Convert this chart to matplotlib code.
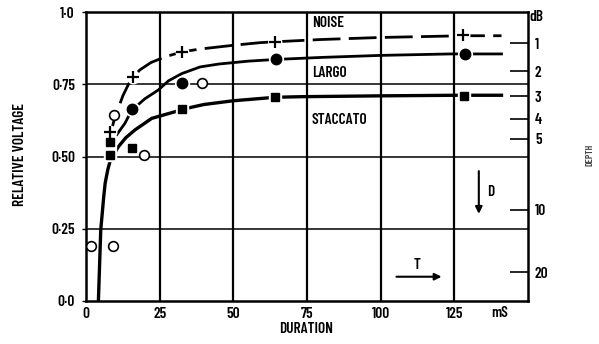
import matplotlib
matplotlib.use("Agg")
import matplotlib.pyplot as plt

# ---------------- data ----------------
noise_x = [8.2, 16.1, 32.5, 64.0, 128.0]
noise_y = [0.586, 0.776, 0.861, 0.896, 0.920]

largo_x = [15.5, 32.5, 64.5, 128.7]
largo_y = [0.663, 0.753, 0.836, 0.855]

stacc_x = [8.2, 8.2, 15.5, 32.5, 64.2, 128.2]
stacc_y = [0.551, 0.505, 0.528, 0.663, 0.705, 0.709]

open_x = [1.6, 9.1, 9.6, 19.8, 39.5]
open_y = [0.19, 0.19, 0.644, 0.505, 0.753]

# hand-drawn curves
noise_cx = [8.0, 9.5, 11.0, 12.5, 14.4, 16.1, 18.3, 22.0, 26.8, 32.5, 38.7, 50.0, 59.0, 64.0, 80.0, 100.0, 123.6, 128.0, 141.0]
noise_cy = [0.565, 0.625, 0.668, 0.710, 0.750, 0.776, 0.800, 0.825, 0.845, 0.862, 0.872, 0.885, 0.894, 0.897, 0.905, 0.912, 0.917, 0.918, 0.918]

largo_cx = [10.4, 13.2, 15.5, 20.0, 24.5, 28.0, 32.5, 38.7, 45.0, 55.0, 64.5, 80.0, 100.0, 123.6, 128.7, 141.0]
largo_cy = [0.575, 0.615, 0.660, 0.700, 0.730, 0.762, 0.787, 0.810, 0.820, 0.830, 0.836, 0.843, 0.850, 0.855, 0.855, 0.855]

stacc_cx = [4.2, 5.0, 6.0, 6.5, 7.4, 8.2, 10.9, 13.5, 16.6, 22.3, 30.2, 32.5, 40.0, 50.0, 64.2, 72.7, 100.0, 126.0, 141.0]
stacc_cy = [0.0, 0.246, 0.360, 0.408, 0.455, 0.485, 0.533, 0.565, 0.592, 0.632, 0.655, 0.663, 0.680, 0.693, 0.705, 0.707, 0.710, 0.712, 0.712]

x_ticks = [0, 25, 50, 75, 100, 125]
x_ticklabels = ["0", "25", "50", "75", "100", "125"]
y_ticks = [0.0, 0.25, 0.5, 0.75, 1.0]
y_ticklabels = ["0·0", "0·25", "0·50", "0·75", "1·0"]
db_ticks = [1, 2, 3, 4, 5, 10, 20]

FONT = ["Barlow Condensed", "DejaVu Sans"]
FW = 600
FS = 11

fig = plt.figure(figsize=(5.99, 3.44), dpi=100)
ax = fig.add_axes([0.1436, 0.125, 0.7379, 0.840])
ax.set_xlim(0, 150)
ax.set_ylim(0, 1.0)

for s in ax.spines.values():
    s.set_linewidth(1.8)

# grid
for v in x_ticks[1:]:
    ax.axvline(v, color="black", lw=1.6, zorder=1)
for v in y_ticks[1:4]:
    ax.axhline(v, color="black", lw=1.1, zorder=1)

# curves
ax.plot(noise_cx, noise_cy, color="black", lw=2.0, dashes=(10, 3), zorder=2, solid_capstyle="butt")
ax.plot(largo_cx, largo_cy, color="black", lw=2.0, zorder=2)
ax.plot(stacc_cx, stacc_cy, color="black", lw=2.4, zorder=2)

# white halos behind markers
ax.plot(noise_x, noise_y, ls="none", marker="o", ms=9, mfc="white", mec="white", zorder=3)
ax.plot(largo_x, largo_y, ls="none", marker="o", ms=10, mfc="white", mec="white", zorder=3)
ax.plot(stacc_x, stacc_y, ls="none", marker="s", ms=8.5, mfc="white", mec="white", zorder=3)

# markers
ax.plot(noise_x, noise_y, ls="none", marker="+", ms=8, mew=1.6, color="black", zorder=4)
ax.plot(largo_x, largo_y, ls="none", marker="o", ms=7.5, color="black", zorder=4)
ax.plot(stacc_x, stacc_y, ls="none", marker="s", ms=6, color="black", zorder=4)
ax.plot(open_x, open_y, ls="none", marker="o", ms=7, mfc="white", mec="black", mew=1.2, zorder=4)

# ticks
ax.set_xticks(x_ticks)
ax.set_xticklabels(x_ticklabels, fontfamily=FONT, fontweight=FW, fontsize=FS)
ax.set_yticks(y_ticks)
ax.set_yticklabels(y_ticklabels, fontfamily=FONT, fontweight=FW, fontsize=FS)
ax.tick_params(axis="x", length=0, pad=4)
ax.tick_params(axis="y", length=3, width=1, pad=5)

ax2 = ax.twinx()
ax2.set_ylim(0, 1.0)
ax2.set_yticks([10 ** (-d / 20) for d in db_ticks])
ax2.set_yticklabels([str(d) for d in db_ticks], fontfamily=FONT, fontweight=FW, fontsize=FS)
ax2.tick_params(axis="y", direction="in", length=13, width=1.2, pad=5)
for s in ax2.spines.values():
    s.set_visible(False)

# labels
ax.text(76.8, 0.962, "NOISE", fontfamily=FONT, fontweight=FW, fontsize=FS, va="center", ha="left", zorder=5)
ax.text(76.8, 0.790, "LARGO", fontfamily=FONT, fontweight=FW, fontsize=FS, va="center", ha="left", zorder=5)
ax.text(76.5, 0.628, "STACCATO", fontfamily=FONT, fontweight=FW, fontsize=FS, va="center", ha="left", zorder=5)

ax.annotate("", xy=(133.3, 0.292), xytext=(133.3, 0.459),
            arrowprops=dict(arrowstyle="-|>", color="black", lw=1.5, mutation_scale=10))
ax.text(136.2, 0.378, "D", fontfamily=FONT, fontweight=FW, fontsize=FS, va="center", ha="left")
ax.annotate("", xy=(121.6, 0.084), xytext=(104.4, 0.084),
            arrowprops=dict(arrowstyle="-|>", color="black", lw=1.5, mutation_scale=10))
ax.text(112.3, 0.125, "T", fontfamily=FONT, fontweight=FW, fontsize=FS, va="center", ha="center")

fig.text(500 / 599, 1 - 313 / 344, "mS", fontfamily=FONT, fontweight=FW, fontsize=FS, ha="center", va="center")
fig.text(536 / 599, 1 - 17 / 344, "dB", fontfamily=FONT, fontweight=FW, fontsize=FS, ha="center", va="center")
fig.text(306 / 599, 1 - 329 / 344, "DURATION", fontfamily=FONT, fontweight=FW, fontsize=FS, ha="center", va="center")
fig.text(20 / 599, 1 - 155 / 344, "RELATIVE VOLTAGE", fontfamily=FONT, fontweight=FW, fontsize=FS,
         rotation=90, ha="center", va="center")
fig.text(590 / 599, 1 - 155 / 344, "DEPTH", fontfamily=FONT, fontweight=FW, fontsize=7,
         rotation=90, ha="center", va="center", color="#444444")

fig.savefig("out.png", dpi=100)
